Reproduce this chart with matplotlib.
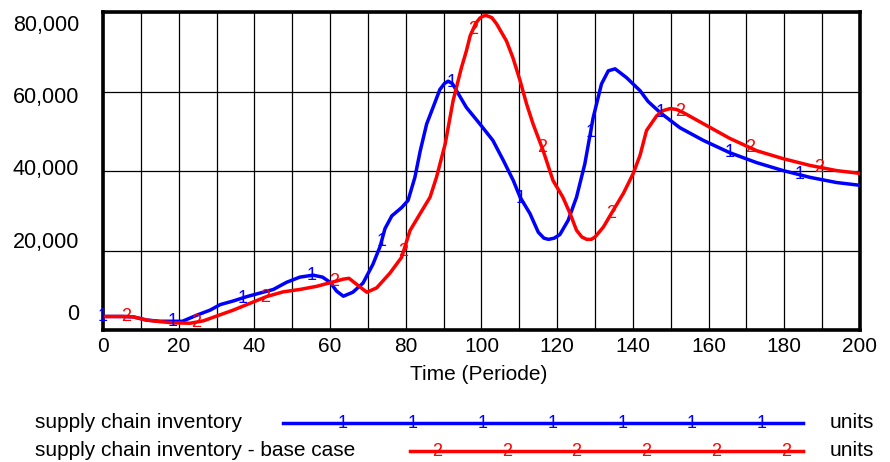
import numpy as np
import matplotlib.pyplot as plt

plt.rcParams['font.family'] = ['Liberation Sans', 'DejaVu Sans']

# supply chain inventory (series 1)
t1 = [0, 5, 8, 11.5, 15, 21, 24.7, 28.3, 31, 34.4, 38, 41.5, 45, 48.5, 52, 55.5,
      58, 60, 61.7, 63.5, 66, 68.7, 71.3, 73.2, 74.5, 76.3, 78.9, 80.6, 82.4,
      83.8, 85.5, 87.2, 89, 90.2, 91.2, 92.3, 93.4, 96, 99.6, 103, 105.8, 108.4,
      110.2, 112.8, 115, 116.5, 117.7, 119.2, 120.7, 122.9, 125.1, 127.3, 129.5,
      131.7, 133.5, 135.3, 138.3, 141.9, 144, 147.2, 152.4, 158.6, 165.6, 172.7,
      179.7, 186.8, 193.8, 200]
v1 = [3400, 3400, 3300, 2500, 2200, 2200, 3700, 5000, 6400, 7300, 8400, 9300,
      10200, 12000, 13300, 13800, 13300, 12000, 9800, 8500, 9500, 11800, 16500,
      21000, 25500, 28700, 30800, 32600, 38400, 45000, 51800, 56000, 60500,
      62000, 62600, 62000, 60200, 56000, 51800, 47700, 42600, 37600, 33400,
      29300, 24600, 23100, 22800, 23100, 24000, 27600, 33400, 41800, 53400,
      61900, 65200, 65700, 63500, 60200, 57500, 54700, 50900, 47700, 44600,
      42100, 40100, 38400, 37100, 36400]

# supply chain inventory - base case (series 2)
t2 = [0, 6, 8, 11.5, 15, 18.6, 23, 26.5, 30, 34.4, 38.8, 43.2, 47.6, 52, 56.5,
      60.8, 63.5, 65, 67, 69.7, 72.3, 75.8, 78.9, 81.1, 83.8, 86.4, 88.1, 90.4,
      92.5, 94.7, 96, 97, 98.5, 99.6, 100.5, 101.3, 102.7, 104, 106.6, 108.3,
      110.2, 111.9, 113.6, 116.3, 118.9, 121.5, 123.4, 125.1, 126.5, 127.8, 129,
      130, 132.2, 134.8, 137.5, 140.1, 141.9, 143.6, 146.3, 148, 149.8, 151.5,
      153.3, 158.6, 165.6, 172.7, 179.7, 186.8, 193.8, 200]
v2 = [3400, 3400, 3300, 2500, 2100, 1800, 1700, 2300, 3500, 5000, 6700, 8400,
      9600, 10200, 11000, 12100, 12800, 13000, 11500, 9500, 10600, 14300, 18300,
      25000, 29300, 33400, 38400, 46800, 57700, 66000, 70200, 74000, 77200,
      78500, 79000, 79100, 78600, 77000, 72700, 68500, 62700, 56900, 51900,
      45100, 37600, 33400, 29300, 25100, 23400, 22800, 22800, 23400, 25900,
      30100, 34400, 39400, 44000, 50200, 53900, 55200, 55700, 55500, 54700,
      51900, 48200, 45100, 43100, 41400, 40100, 39400]

names = ['supply chain inventory', 'supply chain inventory - base case']
units = 'units'
xticks = list(range(0, 201, 20))
ytick_labels = ['80,000', '60,000', '40,000', '20,000', '0']

BLUE = '#0000ff'
RED = '#ff0000'

fig = plt.figure(figsize=(8.9, 4.62), dpi=100)
W, H = 890, 462
L, R, T, B = 103, 860, 12, 330
ax = fig.add_axes([L / W, (H - B) / H, (R - L) / W, (B - T) / H])

ax.plot(t1, v1, color=BLUE, lw=2.5, zorder=3)
ax.plot(t2, v2, color=RED, lw=2.5, zorder=3)

# number markers along the lines
for tm in np.arange(0, 200, 18.4):
    ax.text(tm, np.interp(tm, t1, v1), '1', color=BLUE, fontsize=13,
            ha='center', va='center', zorder=4)
for tm in np.arange(6.2, 200, 18.3):
    ax.text(tm, np.interp(tm, t2, v2), '2', color=RED, fontsize=13,
            ha='center', va='center', zorder=4)

ax.set_xlim(0, 200)
ax.set_ylim(0, 80000)
ax.set_xticks(xticks)
ax.set_xticks(range(10, 200, 20), minor=True)
ax.set_yticks(range(0, 80001, 20000))
ax.set_yticklabels([])
ax.grid(True, which='both', color='black', lw=0.9)
ax.tick_params(which='both', length=0, labelsize=15, pad=5)
for s in ax.spines.values():
    s.set_linewidth(2.6)

# overlay in pixel coordinates for labels and legend
lax = fig.add_axes([0, 0, 1, 1], zorder=-1)
lax.set_xlim(0, W)
lax.set_ylim(H, 0)
lax.axis('off')

for lab, py in zip(ytick_labels, np.linspace(25, 315, 5)):
    lax.text(79, py, lab, ha='right', va='center', fontsize=15.5)

lax.text((L + R) / 2 - 3, 375, 'Time (Periode)', ha='center', va='center', fontsize=15)

# legend
rows = [(423, BLUE, '1', 283, 343), (451, RED, '2', 410, 437)]
for (py, col, mk, x0, m0), name in zip(rows, names):
    lax.text(35, py, name, ha='left', va='center', fontsize=15)
    lax.plot([x0, 803], [py, py], color=col, lw=2.5)
    for mx in np.arange(m0, 800, 69.8):
        lax.text(mx, py, mk, color=col, fontsize=13, ha='center', va='center')
    lax.text(830, py, units, ha='left', va='center', fontsize=15)

fig.savefig('out.png', dpi=100)
